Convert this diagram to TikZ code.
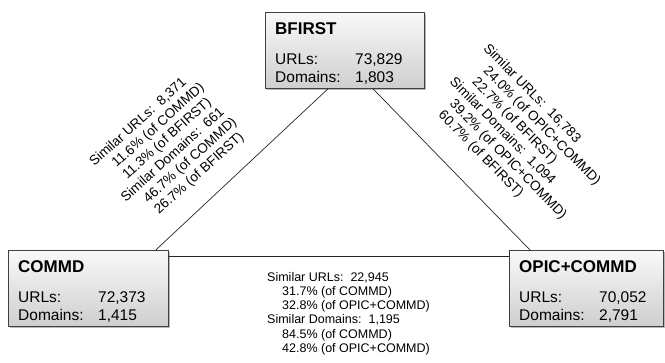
\documentclass[tikz,border=0pt]{standalone}
\usepackage{fontspec}
\setmainfont{Liberation Sans}
\usetikzlibrary{shadows}

\tikzset{
  dbbox/.style={draw=black!75,line width=0.8pt,top color=gray!5,bottom color=gray!38,
    minimum height=76pt,inner sep=0pt,anchor=north west,
    drop shadow={shadow xshift=1.5pt,shadow yshift=-1.5pt,opacity=0.55}},
  dbtitle/.style={font=\fontsize{17}{20}\selectfont\bfseries,inner sep=0pt,anchor=base west},
  dbtext/.style={font=\fontsize{15.5}{18}\selectfont,inner sep=0pt,anchor=base west},
  simtext/.style={font=\fontsize{13.6}{15.8}\selectfont,align=left,inner sep=0pt,anchor=north west},
  bottext/.style={font=\fontsize{12.5}{14.2}\selectfont,align=left,inner sep=0pt,anchor=north west},
  link/.style={draw=black!85,line width=0.7pt}
}

% box contents: name, title, urls, domains
\newcommand\dbfill[4]{%
  \node[dbtitle] (#1-title) at ([shift={(10,22)}]#1.north west) {#2};
  \node[dbtext] (#1-ul) at ([shift={(10,52)}]#1.north west) {URLs:};
  \node[dbtext] (#1-uv) at ([shift={(90,52)}]#1.north west) {#3};
  \node[dbtext] (#1-dl) at ([shift={(10,70)}]#1.north west) {Domains:};
  \node[dbtext] (#1-dv) at ([shift={(90,70)}]#1.north west) {#4};
}

\begin{document}
\begin{tikzpicture}[x=1pt,y=-1pt]
	\useasboundingbox (0,0) rectangle (665,362);
	% the three crawls
	\node[dbbox,minimum width=159pt] (bfirst) at (265,12) {};
	\node[dbbox,minimum width=160pt] (commd) at (8,250) {};
	\node[dbbox,minimum width=154pt] (opic) at (509,250) {};
	\dbfill{bfirst}{BFIRST}{73,829}{1,803}
	\dbfill{commd}{COMMD}{72,373}{1,415}
	\dbfill{opic}{OPIC+COMMD}{70,052}{2,791}
	% overlaps
	\draw[link] ([xshift=63pt]bfirst.south west) -- ([xshift=-13pt]commd.north east);
	\draw[link] ([xshift=108pt]bfirst.south west) -- ([xshift=21pt]opic.north west);
	\draw[link] ([yshift=-6pt]commd.north east) -- ([yshift=-6pt]opic.north west);
	\node[simtext,rotate=42] (simleft) at (87.4,159.6) {Similar URLs:\ \ 8,371\\
		\hspace*{16pt}11.6\% (of COMMD)\\
		\hspace*{16pt}11.3\% (of BFIRST)\\
		Similar Domains:\ \ 661\\
		\hspace*{16pt}46.7\% (of COMMD)\\
		\hspace*{16pt}26.7\% (of BFIRST)};
	\node[simtext,rotate=-45.5] (simright) at (490,42) {Similar URLs:\ \ 16,783\\
		\hspace*{16pt}24.0\% (of OPIC+COMMD)\\
		\hspace*{16pt}22.7\% (of BFIRST)\\
		Similar Domains:\ \ 1,094\\
		\hspace*{16pt}39.2\% (of OPIC+COMMD)\\
		\hspace*{16pt}60.7\% (of BFIRST)};
	\node[bottext] (simbottom) at (267,272) {Similar URLs:\ \ 22,945\\
		\hspace*{15pt}31.7\% (of COMMD)\\
		\hspace*{15pt}32.8\% (of OPIC+COMMD)\\
		Similar Domains:\ \ 1,195\\
		\hspace*{15pt}84.5\% (of COMMD)\\
		\hspace*{15pt}42.8\% (of OPIC+COMMD)};
\end{tikzpicture}
\end{document}
